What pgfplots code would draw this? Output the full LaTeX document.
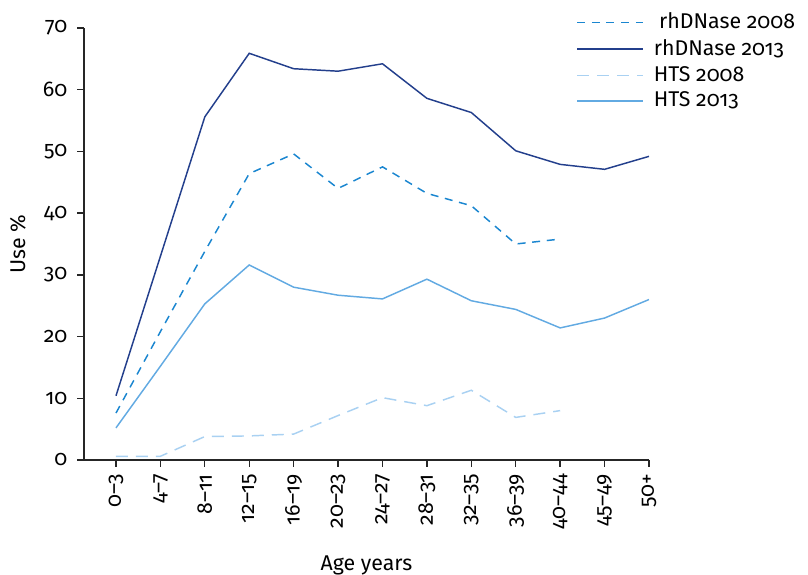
\documentclass[border=0pt]{standalone}
\usepackage{fontspec}
\setmainfont{Fira Sans}[Numbers=OldStyle]
\usepackage{pgfplots}
\pgfplotsset{compat=1.18}
\usetikzlibrary{calc}
\definecolor{navy}{HTML}{233F8C}
\definecolor{midblue}{HTML}{1A86D0}
\definecolor{lightblue}{HTML}{62AAE2}
\definecolor{paleblue}{HTML}{A9D1F2}
\begin{document}
\fontsize{16}{18}\selectfont
\begin{tikzpicture}
\begin{axis}[
  scale only axis,
  width=423.75pt, height=324pt,
  xmin=-0.72, xmax=12, ymin=0, ymax=70,
  axis lines*=left,
  axis line style={line width=1pt, black!85},
  tick style={line width=1pt, black!85},
  tick align=outside,
  major tick length=5pt,
  xtick={0,...,12},
  xticklabels={0–3,4–7,8–11,12–15,16–19,20–23,24–27,28–31,32–35,36–39,40–44,45–49,50+},
  x tick label style={rotate=90, anchor=east, font=\fontsize{16}{18}\selectfont},
  ytick={0,10,...,70},
  y tick label style={font=\fontsize{16}{18}\selectfont, xshift=-2pt},
  /pgf/number format/assume math mode=true,
  xlabel={Age years},
  ylabel={Use \%},
  label style={font=\fontsize{16}{18}\selectfont},
  xlabel style={yshift=-9pt},
  ylabel style={yshift=2pt},
  legend style={at={(0.871,1.04)}, anchor=north west, draw=none, fill=none,
    inner sep=0pt, row sep=2.6pt, font=\fontsize{16}{18}\selectfont,
    nodes={inner sep=1.5pt}},
  legend cell align=left,
  legend image code/.code={\draw[#1] (0pt,0pt) -- (49.5pt,0pt);},
]
\coordinate (bl) at (rel axis cs:0,0);
\coordinate (tr) at (rel axis cs:1,1);
\addplot[midblue, line width=1.1pt, dash pattern=on 6pt off 5pt] coordinates {
(0,7.6) (1,20.8) (2,33.8) (3,46.4) (4,49.6) (5,44.0) (6,47.5) (7,43.2) (8,41.2) (9,35.0) (10,35.8)};
\addlegendentry{\hspace*{10pt}rhDNase 2008}
\addplot[navy, line width=1.1pt] coordinates {
(0,10.4) (1,33.0) (2,55.6) (3,65.9) (4,63.4) (5,63.0) (6,64.2) (7,58.6) (8,56.3) (9,50.1) (10,47.9) (11,47.1) (12,49.2)};
\addlegendentry{\hspace*{6pt}rhDNase 2013}
\addplot[paleblue, line width=1.1pt, dash pattern=on 9pt off 6pt] coordinates {
(0,0.6) (1,0.6) (2,3.8) (3,3.9) (4,4.2) (5,7.2) (6,10.1) (7,8.8) (8,11.3) (9,6.9) (10,8.0)};
\addlegendentry{\hspace*{6pt}HTS 2008}
\addplot[lightblue, line width=1.1pt] coordinates {
(0,5.2) (1,15.2) (2,25.3) (3,31.6) (4,28.0) (5,26.7) (6,26.1) (7,29.3) (8,25.8) (9,24.4) (10,21.4) (11,23.0) (12,26.0)};
\addlegendentry{\hspace*{6pt}HTS 2013}
\end{axis}
\pgfresetboundingbox
\path ($(bl)+(-63pt,-86.25pt)$) rectangle ($(tr)+(119.25pt,21pt)$);
\end{tikzpicture}
\end{document}
